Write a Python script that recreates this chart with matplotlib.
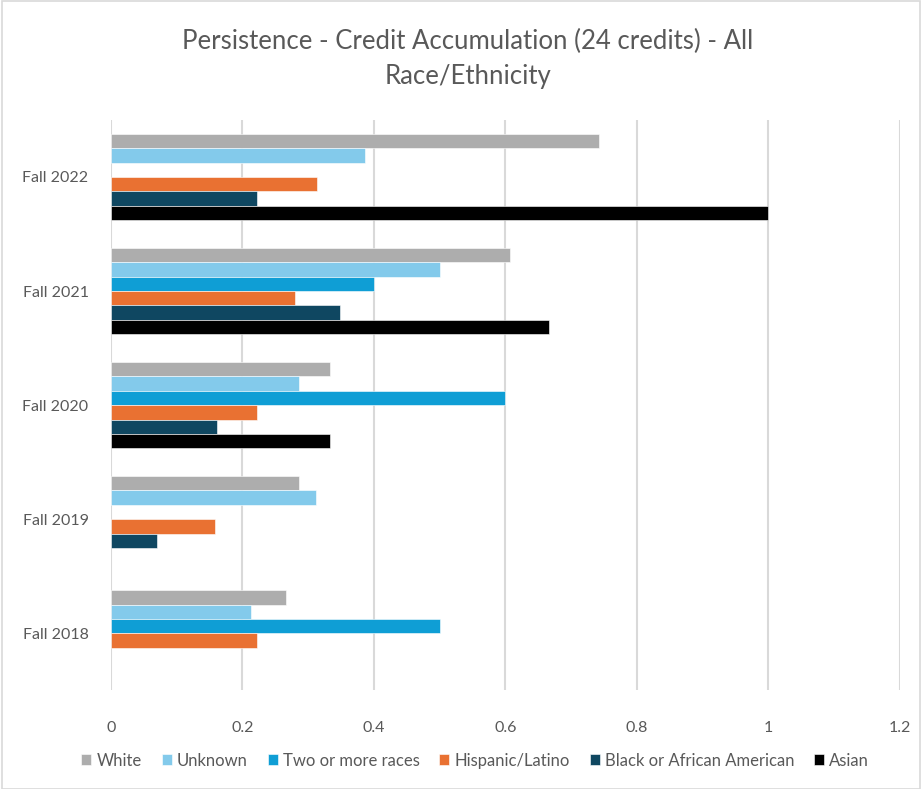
import numpy as np
import matplotlib
matplotlib.use("Agg")
import matplotlib.pyplot as plt
from matplotlib.patches import Rectangle

plt.rcParams['font.family'] = ['Lato', 'DejaVu Sans']

categories = ["Fall 2018", "Fall 2019", "Fall 2020", "Fall 2021", "Fall 2022"]
series_names = ["White", "Unknown", "Two or more races", "Hispanic/Latino",
                "Black or African American", "Asian"]
nan = np.nan
white = [0.267, 0.286, 0.333, 0.607, 0.742]
unknown = [0.214, 0.3125, 0.286, 0.500, 0.387]
two_or_more = [0.500, nan, 0.600, 0.400, nan]
hispanic = [0.222, 0.158, 0.223, 0.280, 0.314]
black = [nan, 0.071, 0.161, 0.349, 0.222]
asian = [nan, nan, 0.333, 0.667, 1.000]
series_values = [white, unknown, two_or_more, hispanic, black, asian]
colors = ["#ADADAD", "#83CAEB", "#0F9ED5", "#E97132", "#0F4761", "#000000"]
xticks = [0, 0.2, 0.4, 0.6, 0.8, 1, 1.2]
xtick_labels = ["0", "0.2", "0.4", "0.6", "0.8", "1", "1.2"]

fig = plt.figure(figsize=(9.23, 7.89), dpi=100)
ax = fig.add_axes([0.120, 0.125, 0.855, 0.723])

y = np.arange(len(categories))
h = 0.126
n = len(series_names)
for j, (name, vals, c) in enumerate(zip(series_names, series_values, colors)):
    offs = (n / 2 - 0.5 - j) * h
    ax.barh(y + offs, vals, height=h, color=c, label=name,
            edgecolor="white", linewidth=0.4, zorder=3)

ax.set_xlim(0, 1.2)
ax.set_ylim(-0.5, 4.5)
ax.set_xticks(xticks)
ax.set_xticklabels(xtick_labels)
ax.set_yticks(y)
ax.set_yticklabels(categories)
ax.tick_params(axis='both', length=0, labelsize=11.5, colors="#595959")
ax.tick_params(axis='x', pad=22)
ax.tick_params(axis='y', pad=16)
for s in ax.spines.values():
    s.set_visible(False)
ax.grid(axis='x', color="#D9D9D9", linewidth=1.5, zorder=0)
ax.set_axisbelow(True)

fig.text(0.507, 0.947, "Persistence - Credit Accumulation (24 credits) - All",
         ha="center", va="center", fontsize=18.5, color="#595959")
fig.text(0.507, 0.903, "Race/Ethnicity",
         ha="center", va="center", fontsize=18.5, color="#595959")

leg = fig.legend(loc="center", bbox_to_anchor=(0.515, 0.036), ncol=6,
                 frameon=False, fontsize=12, handlelength=0.6, handleheight=0.6,
                 handletextpad=0.3, columnspacing=1.2)
for t in leg.get_texts():
    t.set_color("#595959")

fig.patches.append(Rectangle((0.002, 0.0), 0.995, 0.999, transform=fig.transFigure,
                             fill=False, edgecolor="#D9D9D9", linewidth=1.2))

fig.savefig("out.png", dpi=100)
